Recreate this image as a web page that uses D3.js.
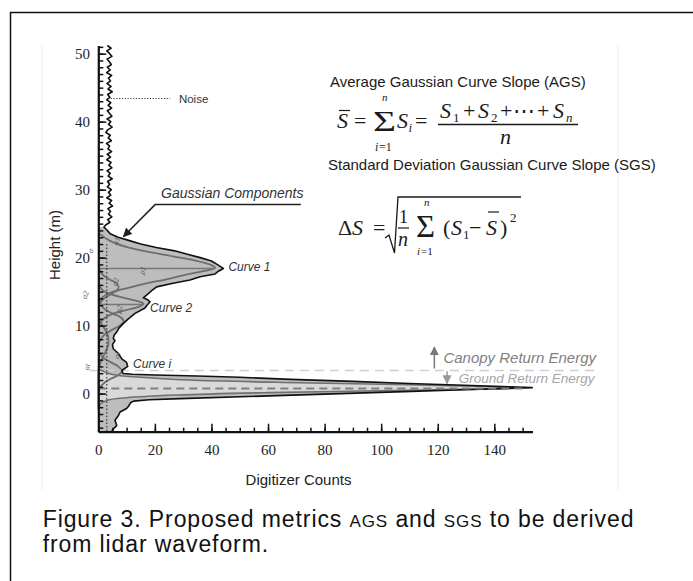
<!DOCTYPE html>
<html>
<head>
<meta charset="utf-8">
<script src="https://cdn.jsdelivr.net/npm/d3@7"></script>
<style>
  body { margin: 0; background: #fff; }
  svg { display: block; }
</style>
</head>
<body>
<div id="fig"></div>
<script>
// raw lidar waveform: [height (m), digitizer counts]
var waveform = [
  [51.2,3.2],[50.8,4.5],[50.4,3.0],[50,4.0],[49.6,4.8],[49.2,3.1],[48.8,3.9],[48.4,4.6],
  [48,3.2],[47.6,4.2],[47.2,3.0],[46.8,4.7],[46.4,3.6],[46,4.3],[45.6,3.1],[45.2,4.5],
  [44.8,3.4],[44.4,4.9],[44,3.3],[43.6,4.1],[43.2,3.0],[42.8,4.4],[42.4,3.5],[42,4.7],
  [41.6,3.2],[41.2,4.0],[40.8,4.8],[40.4,3.1],[40,4.4],[39.6,3.6],[39.2,4.9],[38.8,3.3],
  [38.4,2.7],[38,4.2],[37.6,3.5],[37.2,4.6],[36.8,2.9],[36.4,4.0],[36,3.4],[35.6,4.7],
  [35.2,3.2],[34.8,4.3],[34.4,3.0],[34,4.5],[33.6,3.7],[33.2,4.8],[32.8,3.1],[32.4,4.2],
  [32,3.5],[31.6,4.9],[31.2,3.3],[30.8,4.0],[30.4,3.2],[30,4.6],[29.6,3.6],[29.2,4.4],
  [28.8,3.0],[28.4,4.7],[28,3.8],[27.6,5.0],[27.2,3.4],[26.8,4.3],[26.4,3.6],[26,4.8],
  [25.6,3.3],[25.2,4.1],[24.8,2.6],[24.5,2.0],
  [24.0,3.2],[23.5,4.2],[23.0,7],[22.5,11],[22.0,15],[21.5,20.5],[21.0,27],[20.5,31.5],
  [20.0,36],[19.5,40],[19.0,42],[18.6,43.5],[18.4,44.2],[18.0,42.5],[17.6,41.3],[17.2,36],
  [16.7,32.4],[16.2,26],[15.7,20.6],[15.2,19],[14.7,17.7],[14.1,15.9],[13.8,17.5],[13.5,18.3],
  [13.0,17.2],[12.6,16.5],[11.8,13],[11.0,10.6],[10.3,8.8],[9.6,7.2],[9.06,6.5],[8.6,5.6],
  [8.1,5.3],[7.8,5.9],[7.2,5.0],[6.6,5.3],[5.9,7.1],[5.1,8.3],[4.6,10],[4.0,10.4],
  [3.4,8.3],[2.95,8.8],[2.85,12],[2.75,20],[2.6,35],[2.4,50],[2.1,68],[1.8,90],
  [1.5,110],[1.2,132],[0.88,153.4],[0.6,132],[0.3,108],[0.0,85.5],[-0.3,63],[-0.73,29],
  [-0.9,18],[-1.1,12.5],[-1.3,11.5],[-1.5,11.2],[-1.9,10.6],[-2.2,10],[-2.7,7.7],[-3.3,7.0],
  [-3.9,5.9],[-4.3,6.2],[-4.7,6.5],[-5.2,5.3],[-5.6,4.7]
];
var fillTop = 24.5;   // the shaded signal part starts below this height

// fitted Gaussian components: [height (m), counts]
var curve1 = [[23.5,0.5],[22.5,4],[21.5,10.5],[20.5,22],[19.6,34],[18.9,40],[18.5,41.3],
  [18.0,37],[17.4,30],[16.8,24],[16.2,17],[15.7,12],[15.2,7],[14.8,4],[14.2,1.5],[13.5,0.3]];
var curveB = [[18.5,0.3],[17.5,1.5],[16.8,4],[16.2,6.5],[15.6,7.2],[15.0,6],[14.4,3.5],
  [13.8,1.5],[13.0,0.3]];
var curve2 = [[16.0,0.3],[15.2,1.5],[14.6,4.5],[14.1,9],[13.6,14],[13.2,16],[12.8,14.5],
  [12.3,10],[11.8,5.5],[11.2,2.5],[10.5,0.8],[9.8,0.2]];
var curveC = [[13.5,0.3],[12.5,2],[11.8,5],[11.2,8],[10.6,9],[10.0,7.5],[9.3,4.5],
  [8.6,2],[7.8,0.6],[7.0,0.2]];
var curveD = [[11,0.3],[10,1.5],[9,3],[8,3.6],[7,3.4],[6,2.4],[5,1.2],[4,0.3]];
var curveI = [[6.0,0.3],[5.2,2],[4.6,4.5],[4.0,7],[3.3,8.3],[2.7,7],[2.2,4.5],[1.7,2.5],
  [1.0,0.8],[0.3,0.2]];
var ground = [[3.5,0.5],[2.8,5],[2.4,15],[2.0,32],[1.6,70],[1.3,110],[1.0,140],[0.85,150],
  [0.7,140],[0.45,105],[0.15,60],[-0.2,28],[-0.6,10],[-1.0,3],[-1.5,0.8],[-2.2,0.2]];
var components = [curve1, curveB, curve2, curveC, curveD, curveI];

// mean heights of the two labelled curves, with their peak counts
var muLines = [[18.4, 41], [13.1, 16]];
var groundMean = 0.75, groundPeak = 150;
var canopyLimit = 3.4;
var noiseLevel = 3;

var xTicks = [0, 20, 40, 60, 80, 100, 120, 140];
var yTicks = [0, 10, 20, 30, 40, 50];

var width = 693, height = 581;

var svg = d3.select("#fig").append("svg")
    .attr("width", width)
    .attr("height", height);

// page frame
svg.append("rect")
    .attr("x", 10.5).attr("y", 12.5)
    .attr("width", 720).attr("height", 620)
    .attr("fill", "none").attr("stroke", "#111").attr("stroke-width", 1.5);

// faint edge of the embedded figure
svg.append("path")
    .attr("d", "M42,45V490M618,45V490")
    .attr("stroke", "#eeeeee").attr("fill", "none");

var x = d3.scaleLinear().domain([0, 153.5]).range([98.3, 532.5]);
var y = d3.scaleLinear().domain([-5.6, 51.2]).range([431.7, 45.5]);

var g = svg.append("g");

// shaded waveform
var area = d3.area()
    .y(function(d) { return y(d[0]); })
    .x0(x(0))
    .x1(function(d) { return x(d[1]); });
g.append("path")
    .datum(waveform.filter(function(d) { return d[0] <= fillTop; }))
    .attr("d", area)
    .attr("fill", "#bdbdbd");

var smooth = d3.line()
    .x(function(d) { return x(d[1]); })
    .y(function(d) { return y(d[0]); })
    .curve(d3.curveCatmullRom);

g.append("path")
    .datum(ground)
    .attr("d", d3.area()
      .y(function(d) { return y(d[0]); })
      .x0(x(0))
      .x1(function(d) { return x(d[1]); })
      .curve(d3.curveCatmullRom))
    .attr("fill", "#d9d9d9")
    .attr("stroke", "#707070")
    .attr("stroke-width", 1.6);

g.selectAll(".comp")
    .data(components)
  .enter().append("path")
    .attr("class", "comp")
    .attr("d", smooth)
    .attr("fill", "none")
    .attr("stroke", "#6e6e6e")
    .attr("stroke-width", 1.8);

g.selectAll(".mu")
    .data(muLines)
  .enter().append("line")
    .attr("x1", x(0))
    .attr("x2", function(d) { return x(d[1]); })
    .attr("y1", function(d) { return y(d[0]); })
    .attr("y2", function(d) { return y(d[0]); })
    .attr("stroke", "#777")
    .attr("stroke-width", 1.5);

// canopy / ground limit
g.append("line")
    .attr("x1", x(-3)).attr("x2", x(175.5))
    .attr("y1", y(canopyLimit)).attr("y2", y(canopyLimit))
    .attr("stroke", "#cfcfcf").attr("stroke-width", 1.5)
    .attr("stroke-dasharray", "9,6");

// raw waveform outline
g.append("path")
    .datum(waveform)
    .attr("d", d3.line()
      .x(function(d) { return x(d[1]); })
      .y(function(d) { return y(d[0]); }))
    .attr("fill", "none")
    .attr("stroke", "#111")
    .attr("stroke-width", 1.6)
    .attr("stroke-linejoin", "round");

g.append("line")
    .attr("x1", x(0)).attr("x2", x(groundPeak))
    .attr("y1", y(groundMean)).attr("y2", y(groundMean))
    .attr("stroke", "#808080").attr("stroke-width", 1.8)
    .attr("stroke-dasharray", "8,5");

// noise threshold
g.append("line")
    .attr("x1", x(noiseLevel)).attr("x2", x(noiseLevel))
    .attr("y1", y(22)).attr("y2", y(-5.6))
    .attr("stroke", "#222").attr("stroke-width", 1)
    .attr("stroke-dasharray", "1.5,2");

// axes
var serif = "'Liberation Serif', 'DejaVu Serif', serif";
var sans = "'Liberation Sans', Arial, sans-serif";

svg.append("g")
    .attr("transform", "translate(0," + y(-5.6) + ")")
    .call(d3.axisBottom(x).tickValues(d3.range(0, 155, 5)).tickSize(-4).tickFormat("").tickSizeOuter(0))
    .call(function(s) { s.select(".domain").remove(); });
var xAxis = svg.append("g")
    .attr("transform", "translate(0," + y(-5.6) + ")")
    .call(d3.axisBottom(x).tickValues(xTicks).tickSize(-8).tickPadding(12.6).tickSizeOuter(0));

svg.append("g")
    .attr("transform", "translate(" + x(0) + ",0)")
    .call(d3.axisLeft(y).tickValues(d3.range(-5, 52, 1)).tickSize(-5).tickFormat("").tickSizeOuter(0))
    .call(function(s) { s.select(".domain").remove(); });
var yAxis = svg.append("g")
    .attr("transform", "translate(" + x(0) + ",0)")
    .call(d3.axisLeft(y).tickValues(yTicks).tickSize(-8).tickPadding(8.3).tickSizeOuter(0));

svg.selectAll(".tick line").attr("stroke", "#111").attr("stroke-width", 1.5);
[xAxis, yAxis].forEach(function(a) {
  a.select(".domain").attr("stroke", "#111").attr("stroke-width", 2.2);
  a.selectAll("text").attr("font-family", serif).attr("font-size", 15).attr("fill", "#222");
});

svg.append("text")
    .attr("x", 298.5).attr("y", 485)
    .attr("text-anchor", "middle")
    .attr("font-family", sans).attr("font-size", 15).attr("fill", "#222")
    .text("Digitizer Counts");

svg.append("text")
    .attr("transform", "translate(60,245) rotate(-90)")
    .attr("text-anchor", "middle")
    .attr("font-family", sans).attr("font-size", 15).attr("fill", "#222")
    .text("Height (m)");

// annotations
var ann = svg.append("g").attr("font-family", sans);

ann.append("line")
    .attr("x1", x(3.4)).attr("x2", x(25.4))
    .attr("y1", y(43.4)).attr("y2", y(43.4))
    .attr("stroke", "#333").attr("stroke-width", 1).attr("stroke-dasharray", "1.2,1.6");
ann.append("text")
    .attr("x", x(28.5)).attr("y", y(43.4)).attr("dy", "0.35em")
    .attr("font-size", 11.5).attr("fill", "#333").text("Noise");

svg.append("defs").append("marker")
    .attr("id", "ah").attr("viewBox", "0 0 10 10")
    .attr("refX", 9).attr("refY", 5)
    .attr("markerWidth", 6).attr("markerHeight", 6)
    .attr("orient", "auto-start-reverse")
  .append("path").attr("d", "M0,0L10,5L0,10z").attr("fill", "context-stroke");

ann.append("text")
    .attr("x", x(22.2)).attr("y", y(28.7))
    .attr("font-size", 14).attr("font-style", "italic").attr("fill", "#333")
    .text("Gaussian Components");
ann.append("path")
    .attr("d", d3.line()([[x(71.6), y(27.8)], [x(20.1), y(27.8)], [x(8.9), y(23.1)]]))
    .attr("fill", "none").attr("stroke", "#222").attr("stroke-width", 1.5)
    .attr("marker-end", "url(#ah)");

var curveLabels = [
  {t: "Curve 1", c: 46.0, h: 18.66},
  {t: "Curve 2", c: 18.3, h: 12.56},
  {t: "Curve i", c: 12.3, h: 4.35}
];
ann.selectAll(".cl")
    .data(curveLabels)
  .enter().append("text")
    .attr("x", function(d) { return x(d.c); })
    .attr("y", function(d) { return y(d.h); })
    .attr("dy", "0.35em")
    .attr("font-size", 12).attr("font-style", "italic").attr("fill", "#333")
    .text(function(d) { return d.t; });

// small sigma / mu marks next to the components
var marks = [
  {t: "σ1", c: 7.3, h: 22.3}, {t: "μ1", c: 16.5, h: 18.0}, {t: "σ2", c: 7.0, h: 16.3},
  {t: "μ2", c: 8.2, h: 12.3}, {t: "σi", c: 7.6, h: 5.5},
  {t: "σ", c: -1.8, h: 20.9}, {t: "σ2", c: -3.7, h: 14.4}, {t: "σi", c: -3.0, h: 3.8}
];
ann.selectAll(".mk")
    .data(marks)
  .enter().append("text")
    .attr("transform", function(d) { return "translate(" + x(d.c) + "," + y(d.h) + ") rotate(-72)"; })
    .attr("text-anchor", "middle")
    .attr("font-family", serif).attr("font-size", 8).attr("font-style", "italic").attr("fill", "#555")
    .text(function(d) { return d.t; });

ann.append("line")
    .attr("x1", x(118.8)).attr("x2", x(118.8))
    .attr("y1", y(3.7)).attr("y2", y(6.85))
    .attr("stroke", "#777").attr("stroke-width", 1.5).attr("marker-end", "url(#ah)");
ann.append("line")
    .attr("x1", x(123.3)).attr("x2", x(123.3))
    .attr("y1", y(3.3)).attr("y2", y(1.5))
    .attr("stroke", "#999").attr("stroke-width", 1.5).attr("marker-end", "url(#ah)");
ann.append("text")
    .attr("x", x(122)).attr("y", y(5.34)).attr("dy", "0.35em")
    .attr("font-size", 15).attr("font-style", "italic").attr("fill", "#808080")
    .text("Canopy Return Energy");
ann.append("text")
    .attr("x", x(127.4)).attr("y", y(2.3)).attr("dy", "0.35em")
    .attr("font-size", 13.5).attr("font-style", "italic").attr("fill", "#a6a6a6")
    .text("Ground Return Energy");

// formulas
var f = svg.append("g").attr("fill", "#1a1a1a");
function put(txt, px, py, size, italic, family) {
  return f.append("text").attr("x", px).attr("y", py)
    .attr("font-family", family || serif).attr("font-size", size)
    .attr("font-style", italic ? "italic" : "normal").text(txt);
}
function bar(x1, x2, py, w) {
  f.append("line").attr("x1", x1).attr("x2", x2).attr("y1", py).attr("y2", py)
    .attr("stroke", "#1a1a1a").attr("stroke-width", w || 1.2);
}

put("Average Gaussian Curve Slope (AGS)", 330, 87, 15, false, sans);

put("S", 337, 128, 22, true); bar(339, 350, 110.5);
put("=", 354, 128, 22, false);
put("Σ", 373, 130.5, 30, false).attr("textLength", 23).attr("lengthAdjust", "spacingAndGlyphs");
put("n", 382, 101, 11, true);
put("i", 375, 151, 12, true); put("=1", 379, 151, 12, false);
put("S", 397, 128, 22, true); put("i", 408.5, 132, 13, true);
put("=", 415, 128, 22, false);
bar(438, 578, 124.5, 1.3);
put("S", 440, 118, 22, true); put("1", 453, 122, 13, false);
put("+", 463, 118, 22, false);
put("S", 478, 118, 22, true); put("2", 491, 122, 13, false);
put("+", 500, 118, 22, false);
put("⋯", 513, 118, 22, false);
put("+", 537, 118, 22, false);
put("S", 553, 118, 22, true); put("n", 566, 122, 13, true);
put("n", 500, 144, 22, true);

put("Standard Deviation Gaussian Curve Slope (SGS)", 328, 170, 15, false, sans);

put("Δ", 338, 235, 22, false); put("S", 352, 235, 22, true);
put("=", 373, 235, 22, false);
f.append("path").attr("d", "M385,238L389,235L394.5,253L398,197L521,197")
    .attr("fill", "none").attr("stroke", "#1a1a1a").attr("stroke-width", 1.3);
put("1", 399, 223, 18, false); bar(398, 409, 228, 1.2);
put("n", 398, 246, 20, true);
put("Σ", 416, 237, 32, false).attr("textLength", 19).attr("lengthAdjust", "spacingAndGlyphs");
put("n", 424, 206, 11, true);
put("i", 417, 254.5, 11, true); put("=1", 421, 254.5, 11, false);
put("(", 443, 235, 22, false);
put("S", 451, 235, 22, true); put("1", 463, 239, 13, false);
put("−", 469, 235, 22, false);
put("S", 486, 235, 22, true); bar(488, 499, 212, 1.2);
put(")", 500, 235, 22, false);
put("2", 510, 222, 13, false);

// caption
var cap = svg.append("g").attr("font-family", sans).attr("fill", "#111")
    .attr("font-size", 23).attr("letter-spacing", 0.9);
var l1 = cap.append("text").attr("x", 42.7).attr("y", 527);
l1.append("tspan").text("Figure 3. Proposed metrics ");
l1.append("tspan").attr("font-size", 17).text("AGS");
l1.append("tspan").text(" and ");
l1.append("tspan").attr("font-size", 17).text("SGS");
l1.append("tspan").text(" to be derived");
cap.append("text").attr("x", 42.7).attr("y", 552).text("from lidar waveform.");
</script>
</body>
</html>
